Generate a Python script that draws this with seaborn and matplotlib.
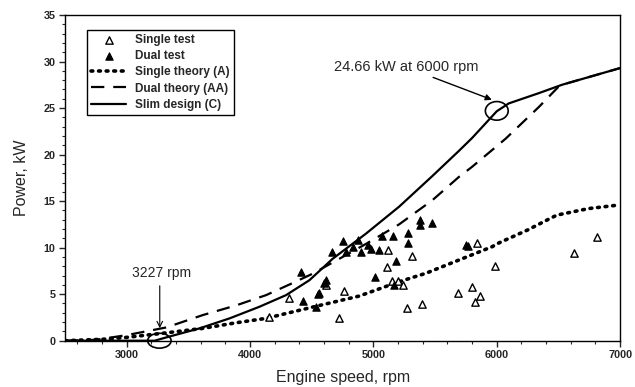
import matplotlib
matplotlib.use("Agg")
import matplotlib.pyplot as plt
import seaborn as sns
import pandas as pd
from matplotlib.patches import Ellipse

# ---- data ----
single_test_rpm = [4152, 4319, 4723, 4763, 4615, 5122, 5114, 5310, 5149, 5198, 5241,
                   5270, 5397, 5688, 5796, 5863, 5823, 5836, 5982, 6626, 6812]
single_test_kw = [2.6, 4.55, 2.4, 5.35, 6.0, 9.75, 7.9, 9.1, 6.4, 6.45, 5.95,
                  3.5, 3.95, 5.1, 5.8, 4.85, 4.2, 10.45, 8.0, 9.4, 11.1]

dual_test_rpm = [4410, 4427, 4548, 4556, 4535, 4602, 4615, 4661, 4750, 4777, 4831,
                 4879, 4898, 4952, 4979, 5046, 5068, 5162, 5283, 5283, 5375, 5375,
                 5473, 5186, 5014, 5168, 5747, 5766]
dual_test_kw = [7.4, 4.3, 5.0, 5.1, 3.65, 6.2, 6.5, 9.5, 10.75, 9.55, 10.1,
                10.8, 9.56, 10.3, 9.9, 9.8, 11.2, 11.2, 11.6, 10.5, 13.0, 12.4,
                12.7, 8.6, 6.9, 6.0, 10.3, 10.2]

single_theory_rpm = [2500, 2800, 3000, 3292, 3618, 3888, 4130, 4346, 4535, 4885,
                     5208, 5424, 5693, 5962, 6016, 6250, 6434, 6488, 6744, 7000]
single_theory_kw = [0.0, 0.15, 0.36, 0.8, 1.33, 1.93, 2.4, 3.1, 3.7, 4.8,
                    6.34, 7.24, 8.67, 10.1, 10.5, 11.9, 13.15, 13.5, 14.2, 14.6]

dual_theory_rpm = [2500, 2750, 3000, 3322, 3618, 3888, 4130, 4346, 4507, 4669,
                   4939, 5208, 5478, 5693, 5801, 6071, 6340, 6501, 6528, 7000]
dual_theory_kw = [0.0, 0.1, 0.6, 1.43, 2.76, 3.8, 4.9, 6.2, 7.2, 8.4,
                  10.4, 12.5, 15.1, 17.6, 18.7, 21.7, 25.1, 27.3, 27.5, 29.3]

slim_rpm = [2500, 3227, 3322, 3591, 3834, 4076, 4292, 4481, 4669, 4939,
            5208, 5478, 5693, 5801, 6000, 6097, 6340, 6528, 7000]
slim_kw = [0.0, 0.0, 0.36, 1.33, 2.4, 3.65, 4.9, 6.5, 8.8, 11.5,
           14.4, 17.7, 20.4, 21.8, 24.66, 25.5, 26.6, 27.5, 29.3]

x_ticks = [3000, 4000, 5000, 6000, 7000]
y_ticks = [0, 5, 10, 15, 20, 25, 30, 35]

# ---- styling ----
sns.set_style("ticks")
plt.rcParams["font.family"] = ["Liberation Sans", "DejaVu Sans"]

fig = plt.figure(figsize=(6.35, 3.87), dpi=100)
ax = fig.add_axes([0.1024, 0.1196, 0.9766 - 0.1024, 0.9612 - 0.1196])

st = pd.DataFrame({"rpm": single_test_rpm, "kw": single_test_kw})
dt = pd.DataFrame({"rpm": dual_test_rpm, "kw": dual_test_kw})
sth = pd.DataFrame({"rpm": single_theory_rpm, "kw": single_theory_kw})
dth = pd.DataFrame({"rpm": dual_theory_rpm, "kw": dual_theory_kw})
sl = pd.DataFrame({"rpm": slim_rpm, "kw": slim_kw})

sns.lineplot(data=sth, x="rpm", y="kw", ax=ax, color="black", lw=2.6,
             estimator=None, sort=False, label="Single theory (A)")
ax.lines[-1].set_linestyle((0, (0.5, 1.6)))
ax.lines[-1].set_dash_capstyle("round")
sns.lineplot(data=dth, x="rpm", y="kw", ax=ax, color="black", lw=1.6,
             estimator=None, sort=False, label="Dual theory (AA)")
ax.lines[-1].set_linestyle((0, (6, 4)))
sns.lineplot(data=sl, x="rpm", y="kw", ax=ax, color="black", lw=1.6,
             estimator=None, sort=False, label="Slim design (C)")

sns.scatterplot(data=st, x="rpm", y="kw", ax=ax, marker="^", s=28,
                facecolor="white", edgecolor="black", linewidth=1.0,
                label="Single test", zorder=5)
sns.scatterplot(data=dt, x="rpm", y="kw", ax=ax, marker="^", s=28,
                color="black", edgecolor="black", linewidth=0.8,
                label="Dual test", zorder=5)

ax.set_xlim(2500, 7000)
ax.set_ylim(0, 35)
ax.set_xticks(x_ticks)
ax.set_yticks(y_ticks)
ax.set_xticks(range(2600, 7000, 200), minor=True)
ax.set_yticks(range(0, 36, 1), minor=True)
ax.tick_params(which="major", direction="out", length=4, width=1, labelsize=7.8, pad=3)
ax.tick_params(which="minor", direction="out", length=2, width=0.8)
for lab in ax.get_xticklabels() + ax.get_yticklabels():
    lab.set_fontweight("bold")
for s in ax.spines.values():
    s.set_visible(True)
    s.set_linewidth(1.0)
    s.set_color("black")

ax.set_xlabel("Engine speed, rpm", fontsize=11.5, labelpad=7)
ax.set_ylabel("Power, kW", fontsize=11.5, labelpad=10)

# legend in reference order
h, l = ax.get_legend_handles_labels()
order = ["Single test", "Dual test", "Single theory (A)", "Dual theory (AA)", "Slim design (C)"]
hd = dict(zip(l, h))
leg = ax.legend([hd[k] for k in order], order, loc="upper left",
                bbox_to_anchor=(0.0395, 0.954), borderaxespad=0, fancybox=False,
                frameon=True, edgecolor="black", framealpha=1,
                handlelength=3.0, handletextpad=0.7, borderpad=0.35,
                labelspacing=0.35, prop={"weight": "bold", "size": 8.5})
leg.get_frame().set_linewidth(1.0)

# annotations
ax.add_patch(Ellipse((6000, 24.7), 185, 2.0, fill=False, ec="black", lw=1.2, zorder=6))
ax.annotate("24.66 kW at 6000 rpm", xy=(5960, 25.9), xytext=(5850, 29.4),
            fontsize=10.5, ha="right", va="center",
            arrowprops=dict(arrowstyle="-|>", color="black", lw=1.0,
                            shrinkA=0, shrinkB=0, mutation_scale=9))
ax.add_patch(Ellipse((3265, 0.0), 190, 1.6, fill=False, ec="black", lw=1.2,
                     zorder=6, clip_on=False))
ax.annotate("", xy=(3268, 1.35), xytext=(3268, 5.9),
            arrowprops=dict(arrowstyle="->", color="black", lw=0.8,
                            shrinkA=0, shrinkB=0, mutation_scale=10))
ax.text(3284, 7.3, "3227 rpm", fontsize=10, ha="center", va="center")

fig.savefig("out.png", dpi=100)
